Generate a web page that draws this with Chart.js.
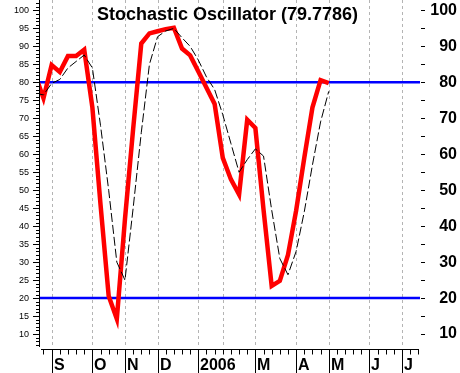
<!DOCTYPE html>
<html>
<head>
<meta charset="utf-8">
<script src="https://cdn.jsdelivr.net/npm/chart.js@4.4.0/dist/chart.umd.min.js"></script>
<style>
  html, body { margin: 0; padding: 0; background: #fff; }
  #wrap { width: 460px; height: 373px; }
</style>
</head>
<body>
<div id="wrap"><canvas id="chart" width="460" height="373"></canvas></div>
<script>
// weekly points, week 1 = first week of September
const weeks = [-1, 0, 1, 2, 3, 4, 5, 6, 7, 8, 9, 10, 11, 12, 13, 14, 15, 16, 17, 18,
  19, 20, 21, 22, 23, 24, 25, 26, 27, 28, 29, 30, 31, 32, 33, 34, 35];
const pctK = [82, 75.6, 84.8, 82.9, 87.3, 87.3, 89.1, 73, 46, 20.6, 14.2, 42, 67, 90.8,
  93.6, 94.2, 94.8, 95.2, 89.4, 87.5, 83, 78.5, 74, 59, 53, 48.8, 69.6, 67.3, 44.6, 23.4,
  24.8, 32, 44.3, 59, 73, 80.6, 79.8];
const pctD = [77, 76.5, 79.7, 80.8, 84, 85.8, 87.6, 84, 68, 50, 30, 25, 45, 66,
  85, 92.7, 94.3, 95, 92.4, 90, 86.2, 81.5, 78, 71, 63, 55, 58.5, 61.5, 59.5, 44.5,
  31, 26.5, 33, 44, 57, 69, 77.5];

const monthWeeks = [1, 6, 10, 14, 19, 22, 26, 31, 35, 40, 44];
const monthNames = ['S', 'O', 'N', 'D', '2006', '', 'M', 'A', 'M', 'J', 'J'];
const leftTicks = [10, 15, 20, 25, 30, 35, 40, 45, 50, 55, 60, 65, 70, 75, 80, 85, 90, 95, 100];
const rightTicks = [10, 20, 30, 40, 50, 60, 70, 80, 90, 100];
const levels = [80, 20];
const lastValue = '79.7786';

const decor = {
  id: 'decor',
  beforeDatasetsDraw(chart) {
    const { ctx, chartArea: a, scales: { x, y } } = chart;
    ctx.save();
    ctx.strokeStyle = '#b4b4b4';
    ctx.lineWidth = 1;
    ctx.setLineDash([3, 3]);
    monthWeeks.forEach(w => {
      const px = Math.round(x.getPixelForValue(w)) + 0.5;
      ctx.beginPath();
      ctx.moveTo(px, a.top);
      ctx.lineTo(px, a.bottom);
      ctx.stroke();
    });
    ctx.setLineDash([]);
    ctx.strokeStyle = '#0000ff';
    ctx.lineWidth = 2.5;
    levels.forEach(v => {
      const py = y.getPixelForValue(v);
      ctx.beginPath();
      ctx.moveTo(a.left, py);
      ctx.lineTo(a.right, py);
      ctx.stroke();
    });
    ctx.restore();
  },
  afterDraw(chart) {
    const { ctx, chartArea: a, scales: { x, y } } = chart;
    ctx.save();
    ctx.strokeStyle = '#000';
    ctx.lineWidth = 1;

    // left axis with unit ticks
    ctx.beginPath();
    ctx.moveTo(a.left + 0.5, a.top);
    ctx.lineTo(a.left + 0.5, a.bottom);
    for (let v = 7; v <= 102; v++) {
      const py = Math.round(y.getPixelForValue(v)) + 0.5;
      const len = v % 5 === 0 ? 6 : 3;
      ctx.moveTo(a.left - len, py);
      ctx.lineTo(a.left, py);
    }
    // right side ticks
    for (let v = 10; v <= 100; v += 5) {
      const py = Math.round(y.getPixelForValue(v)) + 0.5;
      ctx.moveTo(a.right + 1, py);
      ctx.lineTo(a.right + 5, py);
    }
    // bottom axis
    const y0 = a.bottom + 2.5;
    ctx.moveTo(Math.round(x.getPixelForValue(0)) - 2, y0);
    ctx.lineTo(Math.round(x.getPixelForValue(46)) + 1, y0);
    for (let w = 0; w <= 46; w++) {
      const px = Math.round(x.getPixelForValue(w)) + 0.5;
      ctx.moveTo(px, y0);
      ctx.lineTo(px, y0 + 5);
    }
    monthWeeks.forEach((w, i) => {
      if (!monthNames[i]) return;
      const px = Math.round(x.getPixelForValue(w)) + 0.5;
      ctx.moveTo(px, y0);
      ctx.lineTo(px, chart.height);
    });
    ctx.stroke();

    ctx.fillStyle = '#000';
    ctx.textAlign = 'left';
    ctx.textBaseline = 'alphabetic';
    ctx.font = 'bold 16px Arial, "Liberation Sans", sans-serif';
    monthWeeks.forEach((w, i) => {
      if (!monthNames[i]) return;
      const px = Math.round(x.getPixelForValue(w));
      ctx.fillText(monthNames[i], px + 2, 369.5);
    });

    ctx.font = 'bold 18px Arial, "Liberation Sans", sans-serif';
    ctx.fillText('Stochastic Oscillator (' + lastValue + ')', 97, 20);
    ctx.restore();
  }
};

new Chart(document.getElementById('chart'), {
  type: 'line',
  data: {
    labels: weeks,
    datasets: [
      {
        label: '%D',
        data: weeks.map((w, i) => ({ x: w, y: pctD[i] })),
        borderColor: '#000',
        borderWidth: 1,
        borderDash: [9, 3],
        pointRadius: 0,
        tension: 0,
        yAxisID: 'y'
      },
      {
        label: '%K',
        data: weeks.map((w, i) => ({ x: w, y: pctK[i] })),
        borderColor: '#ff0000',
        borderWidth: 4.5,
        pointRadius: 0,
        tension: 0,
        yAxisID: 'y'
      }
    ]
  },
  options: {
    responsive: false,
    animation: false,
    devicePixelRatio: 1,
    layout: { padding: { left: 0, right: 3, top: 0, bottom: 0 } },
    plugins: { legend: { display: false }, tooltip: { enabled: false }, title: { display: false } },
    scales: {
      x: {
        type: 'linear',
        min: -0.55,
        max: 46.2,
        grid: { display: false, drawTicks: false },
        border: { display: false },
        ticks: { display: false },
        afterFit: s => { s.height = 26; s.paddingLeft = 0; s.paddingRight = 0; }
      },
      y: {
        position: 'left',
        min: 6.4,
        max: 102.9,
        afterBuildTicks: s => { s.ticks = leftTicks.map(v => ({ value: v })); },
        afterFit: s => { s.width = 39; s.paddingTop = 0; s.paddingBottom = 0; },
        grid: { display: false, drawTicks: false },
        border: { display: false },
        ticks: { color: '#000', padding: 10, font: { family: 'Arial, "Liberation Sans", sans-serif', size: 9 } }
      },
      y2: {
        position: 'right',
        min: 6.4,
        max: 102.9,
        afterBuildTicks: s => { s.ticks = rightTicks.map(v => ({ value: v })); },
        afterFit: s => { s.width = 37; s.paddingTop = 0; s.paddingBottom = 0; },
        grid: { display: false, drawTicks: false },
        border: { display: false },
        ticks: { color: '#000', crossAlign: 'far', font: { family: 'Arial, "Liberation Sans", sans-serif', size: 16, weight: 'bold' } }
      }
    }
  },
  plugins: [decor]
});
</script>
</body>
</html>
